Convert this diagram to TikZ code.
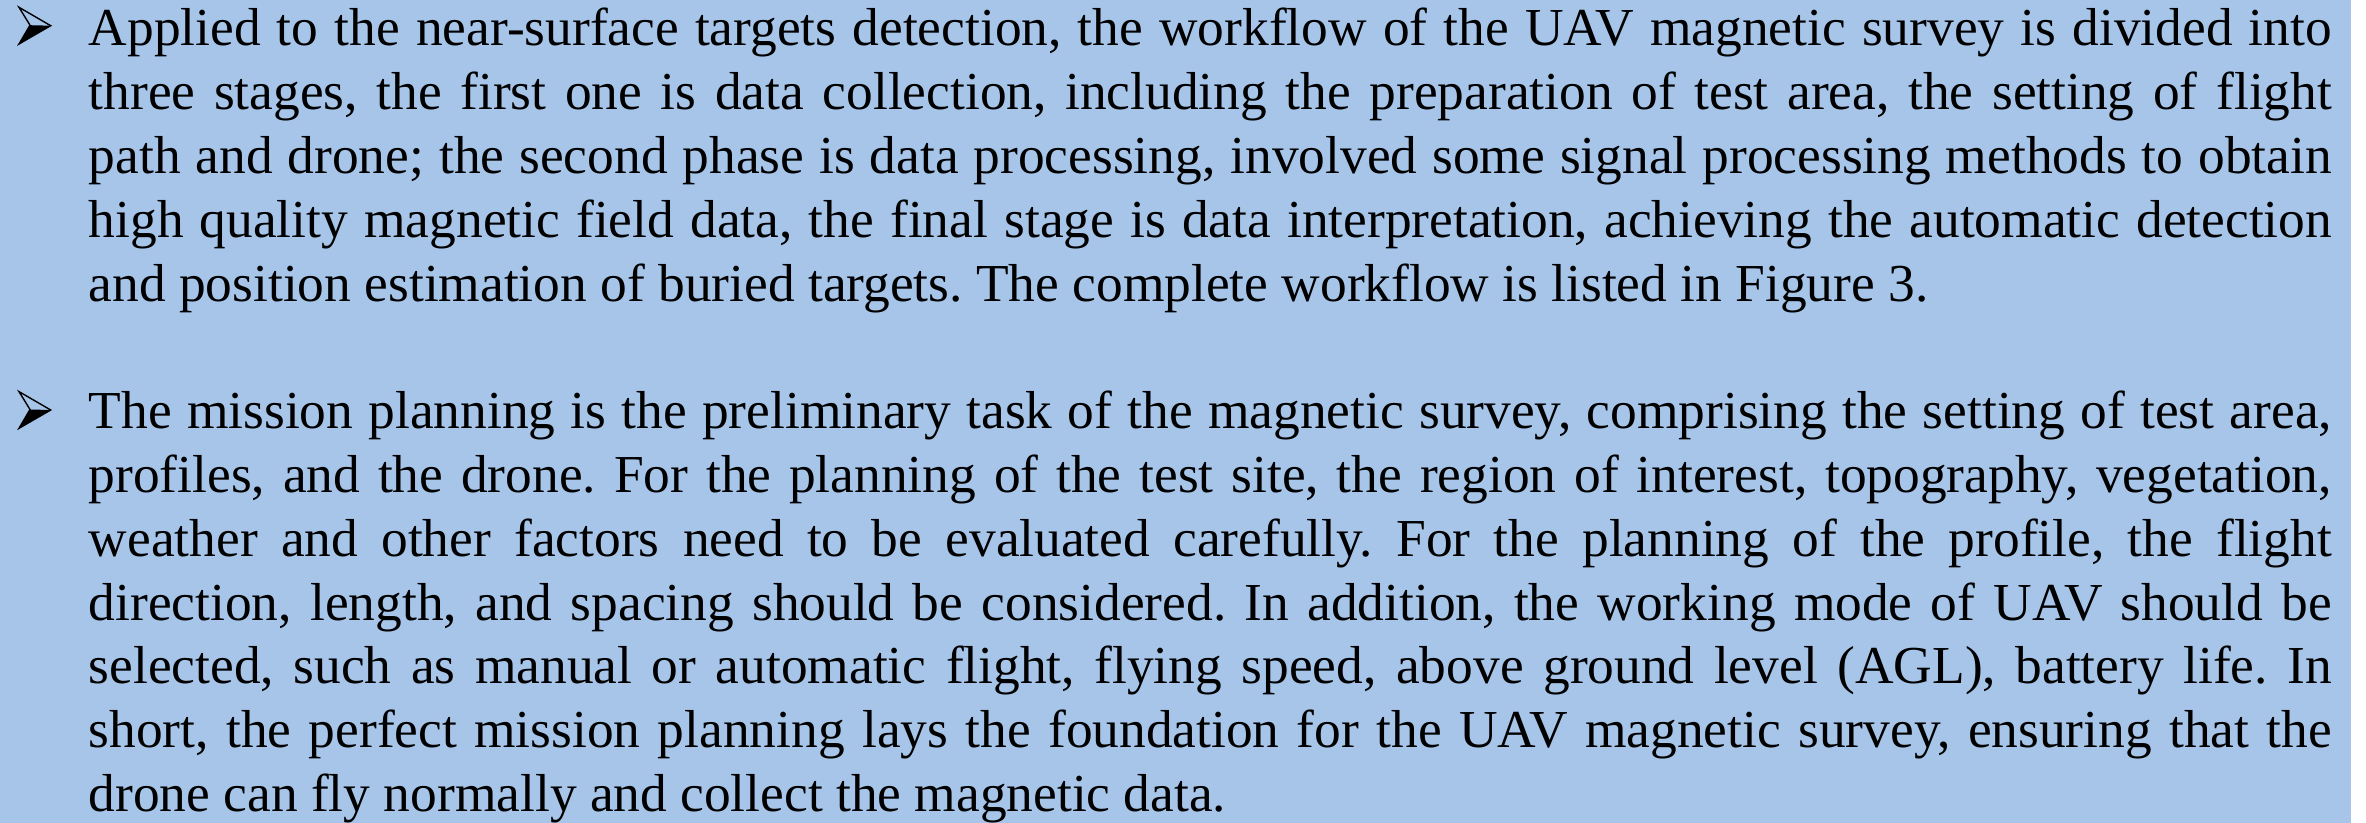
\documentclass[tikz,border=0pt]{standalone}
\usepackage{fontspec}
\setmainfont{Liberation Serif}
\definecolor{panelblue}{RGB}{166,197,233}

% arrowhead bullet: outlined upper half, solid lower half
\tikzset{
  pics/arrowbullet/.style={code={
    \draw[line width=0.35pt, line join=miter] (0,0) -- (31.7,18.4) -- (0,36.7) -- (11,17.9) -- cycle;
    \fill (11,17.9) -- (31.7,18.4) -- (0,36.7) -- cycle;
  }},
  para/.style={anchor=base west, inner sep=0pt, text width=560.75pt, align=justify,
    font=\fontsize{13.35pt}{15.975pt}\selectfont\frenchspacing}
}

\begin{document}
\begin{tikzpicture}[x=0.25pt,y=-0.25pt]
  \useasboundingbox (0,0) rectangle (2366,823);
  \fill[panelblue] (0,0) rectangle (2351,823);

  \pic at (19,7.3) {arrowbullet};
  \node[para] (stages) at (88,46) {Applied to the near-surface targets detection, the workflow of the UAV magnetic survey is divided into\linebreak
    three stages, the first one is data collection, including the preparation of test area, the setting of flight\linebreak
    path and drone; the second phase is data processing, involved some signal processing methods to obtain\linebreak
    high quality magnetic field data, the final stage is data interpretation, achieving the automatic detection\linebreak
    and position estimation of buried targets. The complete workflow is listed in Figure 3.};

  \pic at (19,391.6) {arrowbullet};
  \node[para] (planning) at (88,428.4) {The mission planning is the preliminary task of the magnetic survey, comprising the setting of test area,\linebreak
    profiles, and the drone. For the planning of the test site, the region of interest, topography, vegetation,\linebreak
    weather and other factors need to be evaluated carefully. For the planning of the profile, the flight\linebreak
    direction, length, and spacing should be considered. In addition, the working mode of UAV should be\linebreak
    selected, such as manual or automatic flight, flying speed, above ground level (AGL), battery life. In\linebreak
    short, the perfect mission planning lays the foundation for the UAV magnetic survey, ensuring that the\linebreak
    drone can fly normally and collect the magnetic data.};
\end{tikzpicture}
\end{document}
